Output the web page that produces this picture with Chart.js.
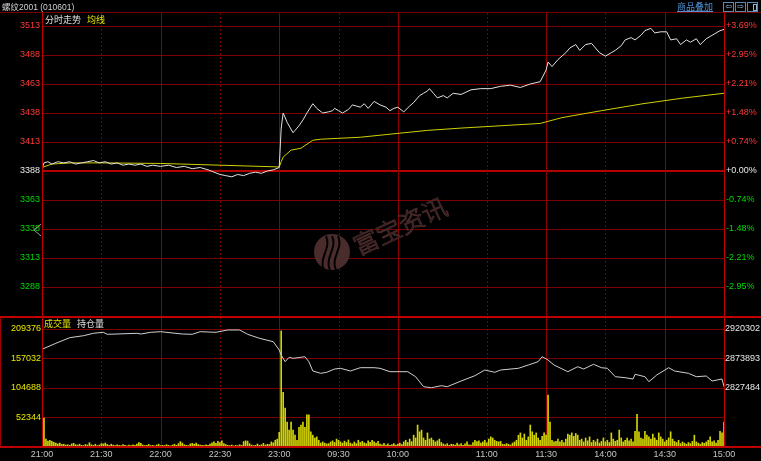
<!DOCTYPE html>
<html><head><meta charset="utf-8">
<script src="https://cdn.jsdelivr.net/npm/chart.js@4.4.0/dist/chart.umd.min.js"></script>
<style>
html,body{margin:0;padding:0;background:#000;width:761px;height:461px;overflow:hidden;}
canvas{position:absolute;left:0;}
#c1{top:0;}
#c2{top:317px;}
.t{position:absolute;font-family:"Liberation Sans","Noto Sans CJK SC",sans-serif;font-size:9px;white-space:nowrap;line-height:10px;}
.ln{position:absolute;}
.ic{position:absolute;top:2px;width:9px;height:8px;border:1px solid #5f86b0;color:#8fb4dc;font-size:8px;line-height:8px;text-align:center;font-family:"DejaVu Sans",sans-serif;}
</style></head><body>
<canvas id="c1" width="761" height="317" style="width:761px;height:317px"></canvas>
<canvas id="c2" width="761" height="144" style="width:761px;height:144px"></canvas>

<div class="t" style="left:2px;top:2px;color:#d0d0d0;font-size:8.5px;">螺纹2001 (010601)</div>
<div class="t" style="left:677px;top:2px;color:#4f93d8;text-decoration:underline;">商品叠加</div>
<div class="ic" style="left:723px;">⇦</div>
<div class="ic" style="left:735px;">⇨</div>
<div class="ic" style="left:747px;"><div style="position:absolute;left:5px;top:1px;width:2px;height:5px;border:1px solid #8fb4dc;"></div></div>
<div class="ln" style="left:0;top:12px;width:761px;height:1px;background:#7a0000;"></div>
<div class="t" style="left:45px;top:15px;color:#e0e0e0;">分时走势</div>
<div class="t" style="left:87px;top:15px;color:#e8e800;">均线</div>
<div class="t" style="left:44px;top:319px;color:#e0e000;">成交量</div>
<div class="t" style="left:77px;top:319px;color:#e0e0e0;">持仓量</div>
<div class="ln" style="left:0;top:316px;width:761px;height:2px;background:#c00000;"></div>
<div class="ln" style="left:0;top:446px;width:761px;height:2px;background:#c00000;"></div>
<div class="ln" style="left:0;top:317px;width:1px;height:130px;background:#a00000;"></div>

<script>
// ---------- data ----------
const timeTickLabels = ["21:00","21:30","22:00","22:30","23:00","09:30","10:00","11:00","11:30","14:00","14:30","15:00"];

const priceTicks = [3288,3313,3338,3363,3388,3413,3438,3463,3488,3513];
const pctLabels  = ["-2.95%","-2.21%","-1.48%","-0.74%","+0.00%","+0.74%","+1.48%","+2.21%","+2.95%","+3.69%"];
const prevSettle = 3388;

const volTicks = [52344,104688,157032,209376];
const oiTicks  = [2827484,2873893,2920302];

const priceTimes = ["21:00","21:01","21:03","21:05","21:08","21:11","21:14","21:17","21:20","21:23","21:26","21:29","21:32","21:35","21:38","21:41","21:44","21:47","21:50","21:53","21:56","22:00","22:04","22:08","22:12","22:16","22:20","22:24","22:27","22:30","22:33","22:36","22:39","22:42","22:45","22:48","22:51","22:54","22:57","23:00",
 "09:01","09:02","09:04","09:07","09:08","09:10","09:12","09:14","09:17","09:19","09:22","09:25","09:27","09:28","09:30","09:32","09:35","09:37","09:39","09:41","09:43","09:45","09:48","09:51","09:54","09:56","09:58","10:00","10:03","10:06","10:08","10:11","10:13","10:15",
 "10:31","10:33","10:35","10:38","10:40","10:43","10:47","10:52","10:57","11:02","11:07","11:12","11:17","11:22","11:27","11:30",
 "13:31","13:33","13:36","13:40","13:42","13:45","13:47","13:50","13:53","13:57","14:00","14:03","14:05","14:08","14:10","14:13","14:15","14:18","14:20","14:23","14:25","14:28","14:31","14:33","14:36","14:38","14:41","14:43","14:46","14:48","14:51","14:53","14:56","14:58","15:00"];
const priceValues = [3390,3395,3396,3394,3396,3395,3396,3394,3395,3396,3397,3395,3396,3394,3395,3393,3394,3393,3394,3392,3393,3392,3393,3391,3392,3390,3391,3389,3387,3385,3384,3383,3385,3384,3386,3387,3386,3388,3389,3391,
 3425,3438,3430,3421,3423,3427,3432,3438,3446,3442,3438,3439,3440,3442,3440,3438,3441,3445,3444,3443,3446,3442,3448,3445,3443,3440,3442,3443,3439,3444,3447,3453,3455,3457,
 3459,3455,3451,3453,3451,3455,3454,3458,3459,3459,3461,3462,3460,3463,3465,3475,
 3482,3478,3484,3490,3494,3497,3492,3497,3498,3490,3487,3490,3492,3496,3501,3503,3501,3505,3509,3511,3507,3508,3508,3501,3502,3497,3501,3499,3502,3497,3502,3504,3507,3509,3510];

const avgTimes  = ["21:00","21:05","21:15","21:30","22:00","22:30","23:00","09:01","09:02","09:06","09:11","09:17","09:21","09:41","10:01","10:15","10:47","11:27","13:38","13:58","14:19","14:39","15:00"];
const avgValues = [3391,3394,3395,3395,3394.5,3393,3391.5,3396,3400,3406,3407.6,3414.5,3415.4,3417.1,3420.6,3423,3425,3429,3434,3440,3446,3450.8,3455];

// one bar per trading minute (21:01 .. 15:00)
const volumeValues = [
 51500,14000,10500,12000,10000,8500,7000,5500,7000,4500,5000,3500,4000,3000,5500,
 6500,4000,3500,5000,3000,2500,4500,3500,7500,4000,3000,5000,2500,3500,6000,
 5500,7000,4500,3000,5000,3500,2500,4000,3000,2500,4500,3000,2000,3500,2500,
 4000,3000,5000,8000,6500,3500,2500,3000,4500,2500,3000,2000,3500,5000,2500,
 3000,2500,4000,3000,2000,3500,5000,3000,6000,9500,7000,4000,3000,2500,5500,
 6500,5000,7000,4500,3500,3000,2500,4000,3000,5000,7500,9000,6500,10000,8000,
 11000,6000,4500,3000,2500,3500,2000,3000,2500,4000,3000,9500,11000,10500,6000,
 3500,2500,3000,5500,3000,4000,6500,3500,5000,4500,9000,7500,12000,14000,26000,
 206000,97000,69000,44000,30000,44000,30000,21000,12000,35000,39000,44000,35000,57000,57000,
 27000,21000,16000,18000,12000,7000,9000,7000,5500,6000,9000,11000,8000,14000,12000,
 9000,7000,10500,8000,12500,7000,5500,9000,6000,12000,8000,10000,7500,6000,11000,
 8500,12000,9000,7000,10000,5000,4000,6500,3500,5500,3000,4500,6000,3500,5000,
 7000,4500,9000,12000,8000,14000,9500,21000,16000,39000,27000,30000,16000,12000,25000,
 14000,16000,12000,9000,11000,14000,8000,5500,4000,6000,3000,5000,4500,3500,7000,
 4000,6000,3000,5500,9000,4000,3500,8000,12000,9500,11000,7000,9000,12000,7500,
 14000,18000,16000,12000,10000,9000,10000,5000,4500,6000,5000,3500,7000,9000,12000,
 21000,25000,16000,23000,12000,18000,39000,27000,21000,25000,16000,12000,19000,25000,21000,
 92000,44000,12000,9000,10000,14000,9000,12000,8000,14000,23000,21000,25000,19000,24000,
 21000,12000,14000,9000,16000,11000,18000,8000,12000,9000,14000,7000,10000,16000,9000,
 12000,8000,25000,14000,10000,12000,30000,16000,9000,12000,16000,11000,14000,9000,28000,
 58000,27000,16000,14000,28000,21000,18000,14000,23000,16000,12000,25000,18000,14000,9000,
 12000,16000,27000,14000,10000,8000,12000,6000,9000,7000,5000,8000,6000,10000,21000,
 9000,7000,5000,8000,6500,9000,12000,18000,9000,11000,7000,12000,28000,25000,44000];

const oiTimes = ["21:00","21:07","21:14","21:21","21:26","21:31","21:33","21:38","21:48","21:50","21:55","22:00","22:11","22:16","22:20","22:28","22:34","22:40","22:44","22:50","22:57","23:00",
 "09:01","09:03","09:05","09:07","09:11","09:13","09:15","09:17","09:21","09:24","09:28","09:31","09:36","09:41","09:48","09:51","09:56","10:05","10:09","10:13",
 "10:32","10:37","10:40","10:47","10:54","10:59","11:04","11:07","11:16","11:21","11:26","11:28",
 "13:31","13:34","13:41","13:46","13:49","13:54","13:58","14:01","14:05","14:10","14:14","14:15","14:20","14:22","14:26","14:32","14:35","14:42","14:46","14:51","14:54","14:59","15:00"];
const oiValues = [2888366,2897805,2906615,2909762,2913537,2915110,2911964,2912436,2913537,2912436,2915110,2916054,2912436,2911964,2916054,2915110,2918729,2918729,2911964,2905671,2900322,2887265,
 2879399,2868858,2875780,2874207,2875780,2876724,2868858,2854228,2850609,2852182,2857374,2858475,2854228,2859419,2859419,2858475,2853126,2853126,2845260,2829528,
 2827955,2831102,2829528,2838496,2846834,2855801,2852182,2855801,2858475,2863667,2868858,2876724,
 2871533,2863667,2853126,2860993,2857374,2864768,2859419,2858475,2845260,2843687,2841642,2849036,2845260,2837394,2847935,2859419,2854228,2850609,2845260,2846361,2838496,2841642,2829528];

// ---------- helpers ----------
function idx(t){
  const [h,m]=t.split(':').map(Number); const v=h*60+m;
  if(v>=1260) return v-1260;          // night 21:00-23:00
  if(v<=615)  return 120+(v-540);     // 09:00-10:15
  if(v<=690)  return 195+(v-630);     // 10:30-11:30
  return 255+(v-810);                 // 13:30-15:00
}
const FONT='"Liberation Sans","Noto Sans CJK SC",sans-serif';
Chart.defaults.font.family=FONT;
Chart.defaults.font.size=9;
Chart.defaults.animation=false;

const tickIdx = timeTickLabels.map(idx);
const priceMin = prevSettle-125, priceMax = 3513+25*13/29;
const volMax = 209376+52344*12/29.5;
const oiMin = 2827484-2*46409, oiMax = 2920302+46409*12/29.5;

function pricColor(v){return v>prevSettle?'#ff3838':(v<prevSettle?'#00d800':'#e8e8e8');}
const plain = v=>String(v);
function fitW(w){return s=>{s.width=w;s.paddingTop=0;s.paddingBottom=0;s.paddingLeft=0;s.paddingRight=0;};}

const framePlugin = {
  id:'frame',
  beforeDatasetsDraw(chart,args,opts){
    const {ctx,chartArea:a,scales:{x}}=chart;
    ctx.save();
    tickIdx.forEach((v,i)=>{
      if(i===0||i===tickIdx.length-1) return;
      const px=Math.round(x.getPixelForValue(v))+0.5;
      ctx.strokeStyle= i%2 ? '#760000' : '#8c0000';
      ctx.lineWidth=1;
      ctx.setLineDash(i%2?[2,2]:[]);
      ctx.beginPath();ctx.moveTo(px,a.top);ctx.lineTo(px,a.bottom);ctx.stroke();
    });
    ctx.setLineDash([]);
    if(opts.watermark){
      ctx.fillStyle='#4a2c2c';
      ctx.beginPath();ctx.arc(332,252,18,0,Math.PI*2);ctx.fill();
      ctx.strokeStyle='#000';ctx.lineWidth=2;
      [[-8],[-2],[4]].forEach(([dx])=>{
        ctx.beginPath();ctx.moveTo(332+dx,270);ctx.bezierCurveTo(332+dx-6,258,332+dx+8,248,332+dx+2,236);ctx.stroke();
      });
      ctx.translate(400,226);ctx.rotate(-25*Math.PI/180);
      ctx.font='300 25px "Noto Sans CJK SC"';
      ctx.strokeStyle='#4a2a2a';ctx.lineWidth=1;
      ctx.textAlign='center';ctx.textBaseline='middle';
      ctx.strokeText('富宝资讯',0,0);
    }
    ctx.restore();
  },
  afterDraw(chart,args,opts){
    const {ctx,chartArea:a}=chart;
    ctx.save();
    ctx.strokeStyle='#c00000';ctx.lineWidth=1;
    ctx.beginPath();
    ctx.moveTo(Math.round(a.left)+0.5,a.top);ctx.lineTo(Math.round(a.left)+0.5,a.bottom);
    ctx.moveTo(Math.round(a.right)+0.5,a.top);ctx.lineTo(Math.round(a.right)+0.5,a.bottom);
    ctx.stroke();
    if(opts.marker){
      ctx.strokeStyle='#a0a0a0';
      ctx.beginPath();ctx.moveTo(41,224);ctx.lineTo(34,230);ctx.lineTo(41,236);ctx.stroke();
    }
    ctx.restore();
  }
};

// ---------- price chart ----------
new Chart(document.getElementById('c1'),{
  type:'line',
  data:{datasets:[
    {label:'价格',data:priceTimes.map((t,i)=>({x:idx(t),y:priceValues[i]})),borderColor:'#e2e2e2',borderWidth:1,pointRadius:0,tension:0},
    {label:'均线',data:avgTimes.map((t,i)=>({x:idx(t),y:avgValues[i]})),borderColor:'#d0d000',borderWidth:1,pointRadius:0,tension:0}
  ]},
  options:{
    responsive:false,maintainAspectRatio:false,
    layout:{padding:{top:13,bottom:1,left:0,right:0}},
    plugins:{legend:{display:false},tooltip:{enabled:false},frame:{watermark:true,marker:true}},
    scales:{
      x:{type:'linear',min:0,max:345,display:false,offset:false},
      y:{position:'left',min:priceMin,max:priceMax,
        afterBuildTicks:s=>{s.ticks=priceTicks.map(v=>({value:v}));},
        afterFit:fitW(42),
        ticks:{color:c=>pricColor(c.tick.value),padding:2,font:{size:9},callback:plain},
        grid:{color:c=>c.tick&&c.tick.value===prevSettle?'#b40000':'#7c0000',lineWidth:c=>c.tick&&c.tick.value===prevSettle?2:1,drawTicks:false},
        border:{display:false}},
      yp:{position:'right',min:priceMin,max:priceMax,
        afterBuildTicks:s=>{s.ticks=priceTicks.map(v=>({value:v}));},
        afterFit:fitW(37),
        ticks:{color:c=>pricColor(c.tick.value),padding:2,font:{size:9},callback:v=>pctLabels[priceTicks.indexOf(v)]},
        grid:{drawOnChartArea:false,drawTicks:false},
        border:{display:false}}
    }
  },
  plugins:[framePlugin]
});

// ---------- volume / open interest chart ----------
new Chart(document.getElementById('c2'),{
  type:'bar',
  data:{datasets:[
    {type:'line',label:'持仓量',yAxisID:'yo',data:oiTimes.map((t,i)=>({x:idx(t),y:oiValues[i]})),borderColor:'#cfcfcf',borderWidth:1,pointRadius:0,tension:0},
    {type:'bar',label:'成交量',yAxisID:'y',data:volumeValues.map((v,i)=>({x:i+1,y:v})),backgroundColor:'#d4d400',barThickness:1,grouped:false}
  ]},
  options:{
    responsive:false,maintainAspectRatio:false,
    layout:{padding:{top:0,bottom:0,left:0,right:0}},
    plugins:{legend:{display:false},tooltip:{enabled:false},frame:{}},
    scales:{
      x:{type:'linear',min:0,max:345,offset:false,
        afterBuildTicks:s=>{s.ticks=tickIdx.map(v=>({value:v}));},
        afterFit:s=>{s.height=14;s.paddingLeft=0;s.paddingRight=0;s.paddingTop=0;s.paddingBottom=0;},
        ticks:{color:'#c4c4c4',padding:2,autoSkip:false,maxRotation:0,font:{size:9},
          callback:(v)=>timeTickLabels[tickIdx.indexOf(v)]},
        grid:{display:false,drawTicks:false,offset:false},border:{display:false}},
      y:{position:'left',min:0,max:volMax,
        afterBuildTicks:s=>{s.ticks=volTicks.map(v=>({value:v}));},
        afterFit:fitW(42),
        ticks:{color:'#e8e800',padding:1,font:{size:9},callback:plain},
        grid:{color:'#7c0000',drawTicks:false},border:{display:false}},
      yo:{position:'right',min:oiMin,max:oiMax,
        afterBuildTicks:s=>{s.ticks=oiTicks.map(v=>({value:v}));},
        afterFit:fitW(37),
        ticks:{color:'#e8e8e8',padding:1,font:{size:9},callback:plain},
        grid:{drawOnChartArea:false,drawTicks:false},border:{display:false}}
    }
  },
  plugins:[framePlugin]
});
</script>
</body></html>
